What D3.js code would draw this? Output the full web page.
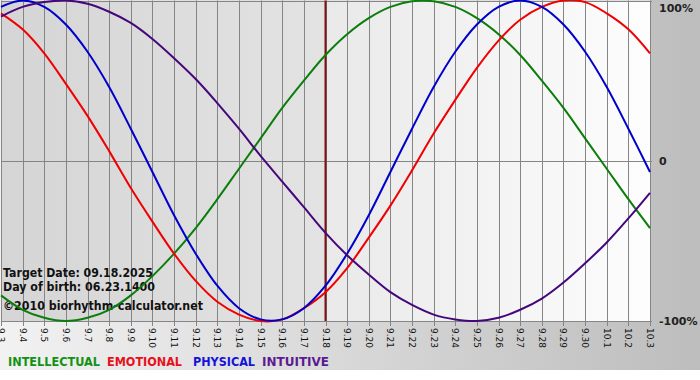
<!DOCTYPE html>
<html>
<head>
<meta charset="utf-8">
<script src="https://cdn.jsdelivr.net/npm/d3@7"></script>
<style>
  html, body { margin: 0; padding: 0; background: #fff; }
  svg { display: block; font-family: "DejaVu Sans", Verdana, sans-serif; }
</style>
</head>
<body>
<svg width="700" height="380"></svg>
<script>
const days = ["9.3","9.4","9.5","9.6","9.7","9.8","9.9","9.10","9.11","9.12","9.13","9.14","9.15","9.16","9.17",
  "9.18","9.19","9.20","9.21","9.22","9.23","9.24","9.25","9.26","9.27","9.28","9.29","9.30","10.1","10.2","10.3"];

const physical = [0.96,1.00,0.96,0.85,0.68,0.46,0.20,-0.07,-0.34,-0.58,-0.78,-0.92,-0.99,-0.99,-0.92,
  -0.78,-0.58,-0.34,-0.07,0.20,0.46,0.68,0.85,0.96,1.00,0.96,0.85,0.68,0.46,0.20,-0.07];
const emotional = [0.92,0.82,0.67,0.48,0.28,0.06,-0.17,-0.38,-0.58,-0.75,-0.88,-0.96,-1.00,-0.99,-0.92,
  -0.82,-0.67,-0.48,-0.28,-0.06,0.17,0.38,0.58,0.75,0.88,0.96,1.00,0.99,0.92,0.82,0.67];
const intellectual = [-0.84,-0.93,-0.98,-1.00,-0.98,-0.93,-0.84,-0.72,-0.58,-0.42,-0.24,-0.05,0.14,0.33,0.50,
  0.66,0.79,0.89,0.96,0.995,0.995,0.96,0.89,0.79,0.66,0.50,0.33,0.14,-0.05,-0.24,-0.42];
const intuitive = [0.90,0.96,0.99,1.00,0.98,0.93,0.86,0.76,0.64,0.51,0.36,0.20,0.03,-0.13,-0.29,
  -0.45,-0.59,-0.71,-0.82,-0.90,-0.96,-0.99,-1.00,-0.98,-0.93,-0.86,-0.76,-0.64,-0.51,-0.36,-0.20];

const targetDay = "9.18";
const yTicks = [1, 0, -1];
const yTickLabels = ["100%", "0", "-100%"];

const series = [
  { name: "INTELLECTUAL", values: intellectual, color: "#0b7d0b", legend: "#129212" },
  { name: "EMOTIONAL", values: emotional, color: "#f00000", legend: "#e8101a" },
  { name: "PHYSICAL", values: physical, color: "#0000cc", legend: "#1414d8" },
  { name: "INTUITIVE", values: intuitive, color: "#45087a", legend: "#5a1a92" }
];
const info = ["Target Date: 09.18.2025", "Day of birth: 06.23.1400", "\u00a92010 biorhythm-calculator.net"];

const svg = d3.select("svg");
const defs = svg.append("defs");

function grad(id, c0, c1) {
  const g = defs.append("linearGradient").attr("id", id).attr("x1", 0).attr("x2", 1).attr("y1", 0).attr("y2", 0);
  g.append("stop").attr("offset", 0).attr("stop-color", c0);
  g.append("stop").attr("offset", 1).attr("stop-color", c1);
}
grad("bg", "#f2f2f2", "#bdbdbd");
grad("past", "#d5d5d5", "#e3e3e3");
grad("future", "#e9e9e9", "#fdfdfd");

const x = d3.scalePoint().domain(days).range([1, 650]);
const y = d3.scaleLinear().domain([-1, 1]).range([321, 0.5]);

// background panel
svg.append("rect").attr("width", 700).attr("height", 370).attr("fill", "url(#bg)");

svg.append("rect")
  .attr("x", x(days[0])).attr("y", y(1))
  .attr("width", x(targetDay) - x(days[0])).attr("height", y(-1) - y(1))
  .attr("fill", "url(#past)");
svg.append("rect")
  .attr("x", x(targetDay)).attr("y", y(1))
  .attr("width", x(days[days.length - 1]) - x(targetDay)).attr("height", y(-1) - y(1))
  .attr("fill", "url(#future)");

// grid
svg.append("g")
  .selectAll("line")
  .data(days)
  .join("line")
  .attr("x1", d => Math.round(x(d)) + 0.5).attr("x2", d => Math.round(x(d)) + 0.5)
  .attr("y1", y(1)).attr("y2", y(-1) + 5)
  .attr("stroke", "#858585");

svg.append("g")
  .selectAll("line")
  .data(yTicks)
  .join("line")
  .attr("x1", x(days[0])).attr("x2", x(days[days.length - 1]) + 2)
  .attr("y1", d => Math.round(y(d)) + 0.5).attr("y2", d => Math.round(y(d)) + 0.5)
  .attr("stroke", "#858585");

// x labels
svg.append("g")
  .selectAll("text")
  .data(days)
  .join("text")
  .attr("transform", d => `translate(${Math.round(x(d)) - 3},${y(-1) + 7}) rotate(90)`)
  .attr("font-size", 9)
  .attr("fill", "#111")
  .text(d => d);

// y labels
svg.append("g")
  .selectAll("text")
  .data(yTicks)
  .join("text")
  .attr("x", 659)
  .attr("y", d => d === 1 ? y(d) + 11 : y(d) + 4)
  .attr("font-size", 11)
  .attr("font-weight", "bold")
  .attr("fill", "#222")
  .text((d, i) => yTickLabels[i]);

// target date line
svg.append("line")
  .attr("x1", x(targetDay)).attr("x2", x(targetDay))
  .attr("y1", y(1)).attr("y2", y(-1))
  .attr("stroke", "#7a1414").attr("stroke-width", 2);

// info texts
svg.append("g")
  .selectAll("text")
  .data(info)
  .join("text")
  .attr("x", 3)
  .attr("y", (d, i) => 277 + i * 14 + (i === 2 ? 5 : 0))
  .attr("font-size", 11.5)
  .attr("font-weight", "bold")
  .attr("fill", "#111")
  .attr("textLength", (d, i) => [150, 152, 200][i])
  .attr("lengthAdjust", "spacingAndGlyphs")
  .text(d => d);

// curves
const line = d3.line()
  .x((d, i) => x(days[i]))
  .y(d => y(d))
  .curve(d3.curveCatmullRom);

svg.append("g")
  .selectAll("path")
  .data(series)
  .join("path")
  .attr("d", d => line(d.values))
  .attr("fill", "none")
  .attr("stroke", d => d.color)
  .attr("stroke-width", 2);

// legend
const legendX = [8, 107, 193, 262];
const legendW = [92, 75, 62, 67];
svg.append("g")
  .selectAll("text")
  .data(series)
  .join("text")
  .attr("x", (d, i) => legendX[i])
  .attr("y", 366)
  .attr("font-size", 12)
  .attr("font-weight", "bold")
  .attr("fill", d => d.legend)
  .attr("textLength", (d, i) => legendW[i])
  .attr("lengthAdjust", "spacingAndGlyphs")
  .text(d => d.name);
</script>
</body>
</html>
